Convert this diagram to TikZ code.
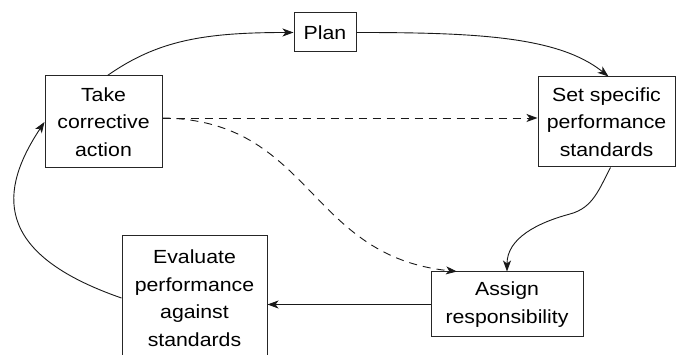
\documentclass[tikz,border=0pt]{standalone}
\usepackage{fontspec}
\setmainfont{Liberation Sans}[FakeStretch=1.12]
\usetikzlibrary{arrows.meta}

\begin{document}
\begin{tikzpicture}[
    x=1pt, y=1pt,
    box/.style={rectangle, draw=black!85, line width=1pt, inner sep=0pt, align=center, font=\fontsize{19}{27.5}\selectfont},
    arrow/.style={-{Stealth[length=11pt,width=8pt,inset=3pt]}, line width=0.9pt, black!90},
    dasharrow/.style={arrow, dash pattern=on 8pt off 6pt}
]
\useasboundingbox (0,0) rectangle (676,355);

% Steps of the cycle
\node[box, minimum width=62pt, minimum height=39pt] (plan) at (325,322.5) {Plan};
\node[box, minimum width=117pt, minimum height=92pt] (take) at (103.5,233) {Take\\corrective\\action};
\node[box, minimum width=137pt, minimum height=90pt] (set) at (606.5,233) {Set specific\\performance\\standards};
\node[box, minimum width=152pt, minimum height=65pt] (assign) at (507,50.5) {Assign\\responsibility};
\node[box, minimum width=145pt, minimum height=124pt] (eval) at (194.5,57) {Evaluate\\performance\\against\\standards};

% Solid arrows
\draw[arrow] ([xshift=4pt]take.north) .. controls +(50,35) and +(-90,0) .. (plan.west);
\draw[arrow] (plan.east) .. controls +(120,0) and +(-50,40) .. ([xshift=2pt]set.north);
\draw[arrow] ([xshift=4pt]set.south) to[out=-118,in=15] (570,141) to[out=195,in=90] (assign.north);
\draw[arrow] (assign.west) -- (assign.west -| eval.east);
\draw[arrow] (eval.west) .. controls +(-130,45) and +(-45,-68) .. (take.west);

% Dashed arrows
\draw[dasharrow] ([yshift=4pt]take.east) -- ([yshift=4pt]set.west);
\draw[dasharrow] ([yshift=4pt]take.east) .. controls +(150,-2) and +(-150,15) .. ([xshift=-50pt]assign.north);

\end{tikzpicture}
\end{document}
